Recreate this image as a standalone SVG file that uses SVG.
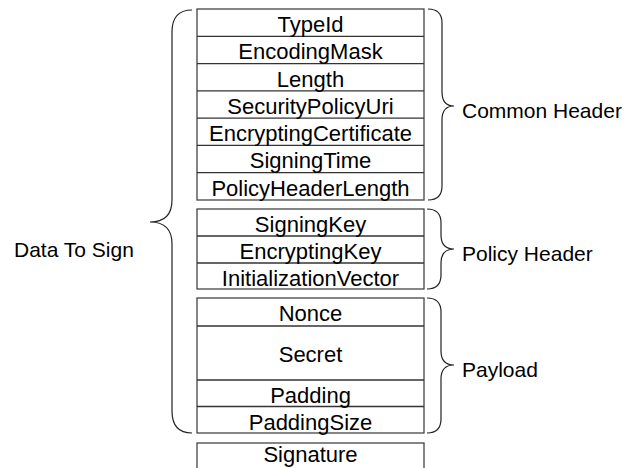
<svg xmlns="http://www.w3.org/2000/svg" width="629" height="468" viewBox="0 0 629 468">
<style>
.box{fill:#fff;stroke:#444;stroke-width:1.3}
.sep{stroke:#333;stroke-width:1.3}
.t{font-family:"Liberation Sans",Arial,sans-serif;font-size:22px;fill:#000;text-anchor:middle}
.lbl{font-family:"Liberation Sans",Arial,sans-serif;font-size:21px;fill:#000}
.brace{fill:none;stroke:#222;stroke-width:1.2}
</style>
<rect width="629" height="468" fill="#fff"/>
<g id="common-header">
<rect class="box" x="197" y="9" width="227" height="191"/>
<line class="sep" x1="197" y1="36.3" x2="424" y2="36.3"/>
<line class="sep" x1="197" y1="63.6" x2="424" y2="63.6"/>
<line class="sep" x1="197" y1="90.9" x2="424" y2="90.9"/>
<line class="sep" x1="197" y1="118.1" x2="424" y2="118.1"/>
<line class="sep" x1="197" y1="145.4" x2="424" y2="145.4"/>
<line class="sep" x1="197" y1="172.7" x2="424" y2="172.7"/>
<text class="t" x="310.5" y="32">TypeId</text>
<text class="t" x="310.5" y="59.3">EncodingMask</text>
<text class="t" x="310.5" y="86.6">Length</text>
<text class="t" x="310.5" y="113.9">SecurityPolicyUri</text>
<text class="t" x="310.5" y="141.1">EncryptingCertificate</text>
<text class="t" x="310.5" y="168.4">SigningTime</text>
<text class="t" x="310.5" y="195.7">PolicyHeaderLength</text>
</g>
<g id="policy-header">
<rect class="box" x="197" y="209" width="227" height="80"/>
<line class="sep" x1="197" y1="236" x2="424" y2="236"/>
<line class="sep" x1="197" y1="263" x2="424" y2="263"/>
<text class="t" x="310.5" y="232">SigningKey</text>
<text class="t" x="310.5" y="259">EncryptingKey</text>
<text class="t" x="310.5" y="286">InitializationVector</text>
</g>
<g id="payload">
<rect class="box" x="197" y="298" width="227" height="135"/>
<line class="sep" x1="197" y1="326" x2="424" y2="326"/>
<line class="sep" x1="197" y1="380" x2="424" y2="380"/>
<line class="sep" x1="197" y1="406.5" x2="424" y2="406.5"/>
<text class="t" x="310.5" y="321">Nonce</text>
<text class="t" x="310.5" y="362">Secret</text>
<text class="t" x="310.5" y="403">Padding</text>
<text class="t" x="310.5" y="429.5">PaddingSize</text>
</g>
<g id="signature">
<rect class="box" x="197" y="443" width="227" height="40"/>
<text class="t" x="310.5" y="462">Signature</text>
</g>
<g id="connectors">
<path class="brace" d="M192,10 Q172,10 172,32 L172,200 Q172,222 150,222 Q172,222 172,244 L172,411 Q172,433 192,433"/>
<path class="brace" d="M428,9 Q442,9 442,23 L442,92 Q442,106 454,106 Q442,106 442,120 L442,186 Q442,200 428,200"/>
<path class="brace" d="M427,209 Q441,209 441,223 L441,235 Q441,249 454,249 Q441,249 441,263 L441,275 Q441,289 427,289"/>
<path class="brace" d="M427,298 Q441,298 441,312 L441,351 Q441,365 454,365 Q441,365 441,379 L441,419 Q441,433 427,433"/>
</g>
<g id="labels">
<text class="lbl" x="14" y="257">Data To Sign</text>
<text class="lbl" x="462" y="117.5">Common Header</text>
<text class="lbl" x="462" y="261">Policy Header</text>
<text class="lbl" x="462" y="377">Payload</text>
</g>
</svg>
